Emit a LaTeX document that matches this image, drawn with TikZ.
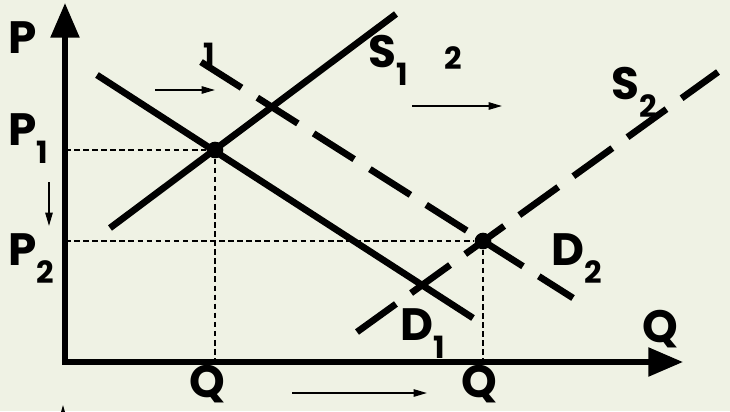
\documentclass[tikz,border=0pt]{standalone}
\usepackage{fontspec}
\setmainfont{Poppins}
\usetikzlibrary{arrows.meta}
\definecolor{bgcol}{HTML}{EFF2E4}
\newcommand{\bigfont}{\fontsize{34}{34}\selectfont\bfseries}
\newcommand{\subfont}{\fontsize{23}{23}\selectfont\bfseries}
\newcommand{\lbl}[2]{#1\raisebox{-13.5pt}{\subfont #2}}

\begin{document}
\begin{tikzpicture}[x=0.75pt, y=-0.75pt,
    axis/.style={line width=4.1pt, line join=miter, {Triangle[length=26pt,width=21pt]}-{Triangle[length=26pt,width=21pt]}},
    curve/.style={line width=5pt},
    shifted/.style={line width=5pt, dash pattern=on 36pt off 14pt},
    guide/.style={line width=1.4pt, dash pattern=on 4.2pt off 2.6pt},
    move/.style={line width=1.2pt, -{Triangle[length=10pt,width=5.5pt]}},
    dot/.style={circle, fill=black, inner sep=0pt, minimum size=12.5pt},
    lbl/.style={inner sep=0pt, anchor=base west, font=\bigfont},
    num/.style={inner sep=0pt, anchor=base west, font=\subfont}]

    \fill [bgcol] (0,0) rectangle (730,411);
    \clip (0,0) rectangle (730,411);

    % axes
    \coordinate (O) at (65,362);
    \coordinate (ytip) at (65,3);
    \coordinate (xtip) at (683,362);
    \draw [axis] (ytip) -- (O) -- (xtip);

    % curves
    \coordinate (d1a) at (97,75);   \coordinate (d1b) at (473,318);
    \coordinate (s1a) at (110,228); \coordinate (s1b) at (396,14);
    \coordinate (d2a) at (201,62);  \coordinate (d2b) at (573,298);
    \coordinate (s2a) at (357,332); \coordinate (s2b) at (718,72);
    \draw [curve] (d1a) -- (d1b);
    \draw [curve] (s1a) -- (s1b);
    \draw [shifted] (d2a) -- (d2b);
    \draw [shifted] (s2a) -- (s2b);

    % equilibria
    \node [dot] (e1) at (215,150) {};
    \node [dot] (e2) at (483,241) {};
    \coordinate (p1) at (65,150);  \coordinate (q1) at (215,362);
    \coordinate (p2) at (65,241);  \coordinate (q2) at (483,362);
    \draw [guide] (p1) -- (e1) -- (q1);
    \draw [guide] (p2) -- (e2) -- (q2);

    % labels
    \node [lbl] (P) at (8,53) {P};
    \node [lbl] (P1) at (8,145) {\lbl{P}{1}};
    \node [lbl] (P2) at (8,265) {\lbl{P}{2}};
    \node [lbl] (Qa) at (189,397) {Q};
    \node [lbl] (Qb) at (461,397) {Q};
    \node [lbl] (Q) at (642,342) {Q};
    \node [lbl] (S1) at (368,67) {\lbl{S}{1}};
    \node [lbl] (S2) at (611,99) {\lbl{S}{2}};
    \node [lbl] (D1) at (400,340) {\lbl{D}{1}};
    \node [lbl] (D2) at (551,265) {\lbl{D}{2}};
    \node [num] (n1) at (203,65) {1};
    \node [num] (n2) at (444,69) {2};

    % shift arrows
    \coordinate (a1) at (155,90);  \coordinate (b1) at (215,90);
    \coordinate (a2) at (412,106); \coordinate (b2) at (502,106);
    \coordinate (a3) at (292,393); \coordinate (b3) at (427,393);
    \coordinate (a4) at (49,182);  \coordinate (b4) at (49,226);
    \coordinate (a5) at (63,440);  \coordinate (b5) at (63,405);
    \draw [move] (a1) -- (b1);
    \draw [move] (a2) -- (b2);
    \draw [move] (a3) -- (b3);
    \draw [move] (a4) -- (b4);
    \draw [move] (a5) -- (b5);
\end{tikzpicture}
\end{document}
